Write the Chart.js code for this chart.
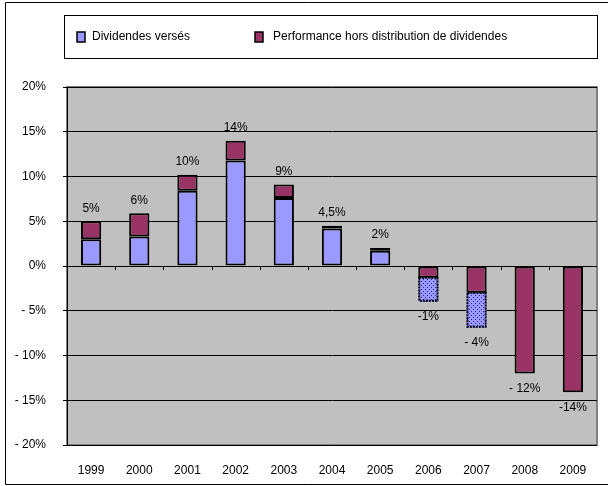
<!DOCTYPE html>
<html>
<head>
<meta charset="utf-8">
<script src="https://cdn.jsdelivr.net/npm/chart.js@4"></script>
<style>
  html, body { margin: 0; padding: 0; background: #fff; }
  #wrap { width: 608px; height: 486px; }
</style>
</head>
<body>
<div id="wrap"><canvas id="myChart" width="608" height="486"></canvas></div>
<script>
// données du graphique
const years = ['1999', '2000', '2001', '2002', '2003', '2004', '2005', '2006', '2007', '2008', '2009'];
const dividendes = [3.0, 3.3, 8.4, 11.8, 7.6, 4.2, 1.7, null, null, null, null];
const performance = [2.0, 2.6, 1.8, 2.2, 1.5, 0.3, 0.3, -1.3, -3.0, -12.0, -14.1];
const dividendesNeg = [null, null, null, null, null, null, null, -2.7, -3.9, null, null];
const totalLabels = ['5%', '6%', '10%', '14%', '9%', '4,5%', '2%', '-1%', '- 4%', '- 12%', '-14%'];
const yTicks = [20, 15, 10, 5, 0, -5, -10, -15, -20];

const BLUE = '#9999FF';
const RED = '#993366';
const FONT = '"Liberation Sans", Arial, sans-serif';

// motif pointillé pour les dividendes en négatif
const pat = document.createElement('canvas');
pat.width = 4; pat.height = 4;
const pctx = pat.getContext('2d');
pctx.fillStyle = BLUE;
pctx.fillRect(0, 0, 4, 4);
pctx.fillStyle = '#2a2a8a';
pctx.fillRect(1, 1, 1, 1);
pctx.fillRect(3, 3, 1, 1);

const ctx = document.getElementById('myChart').getContext('2d');
const dottedPattern = ctx.createPattern(pat, 'repeat');

const decor = {
  id: 'decor',
  beforeDraw(chart) {
    const c = chart.ctx, a = chart.chartArea;
    c.save();
    c.fillStyle = '#fff';
    c.fillRect(0, 0, chart.width, chart.height);
    // cadre extérieur
    c.strokeStyle = '#000';
    c.lineWidth = 1;
    c.beginPath();
    c.moveTo(chart.width + 2, 2.5);
    c.lineTo(5.5, 2.5);
    c.lineTo(5.5, 484.5);
    c.lineTo(chart.width + 2, 484.5);
    c.stroke();
    // fond de la zone de tracé
    c.fillStyle = '#C0C0C0';
    c.fillRect(a.left, a.top, a.right - a.left, a.bottom - a.top);
    c.strokeStyle = '#808080';
    c.lineWidth = 2;
    c.strokeRect(a.left, a.top, a.right - a.left, a.bottom - a.top);
    // légende
    c.lineWidth = 1;
    c.strokeStyle = '#000';
    c.strokeRect(64.5, 15.5, 533, 43);
    const items = [[chart.data.datasets[0], 77, 92], [chart.data.datasets[1], 255, 273]];
    c.font = '12px ' + FONT;
    c.textBaseline = 'middle';
    c.textAlign = 'left';
    items.forEach(([ds, bx, tx]) => {
      c.fillStyle = ds.backgroundColor;
      c.fillRect(bx, 32, 8, 10);
      c.lineWidth = 1.5;
      c.strokeStyle = '#000';
      c.strokeRect(bx, 32, 8, 10);
      c.fillStyle = '#000';
      c.fillText(ds.label, tx, 37);
    });
    c.restore();
  },
  afterDatasetsDraw(chart) {
    const c = chart.ctx;
    const x = chart.scales.x, y = chart.scales.y;
    c.save();
    // petites graduations sur la ligne du zéro
    const y0 = y.getPixelForValue(0);
    const step = (x.right - x.left) / years.length;
    c.strokeStyle = '#000';
    c.lineWidth = 1;
    c.beginPath();
    for (let k = 1; k < years.length; k++) {
      const px = Math.round(x.left + step * k) + 0.5;
      c.moveTo(px, y0);
      c.lineTo(px, y0 + 4);
    }
    c.moveTo(x.left - 4, y0 + 0.5);
    c.lineTo(x.right, y0 + 0.5);
    c.stroke();
    // contour pointillé
    const meta2 = chart.getDatasetMeta(2);
    c.setLineDash([2, 1]);
    c.lineWidth = 2;
    meta2.data.forEach((bar, i) => {
      if (dividendesNeg[i] == null) return;
      const w = bar.width;
      c.strokeRect(bar.x - w / 2 + 1, Math.min(bar.y, bar.base), w - 2, Math.abs(bar.base - bar.y) - 1);
    });
    c.setLineDash([]);
    // étiquettes des totaux
    c.font = '12px ' + FONT;
    c.fillStyle = '#000';
    c.textAlign = 'center';
    c.textBaseline = 'middle';
    years.forEach((yr, i) => {
      let top = Infinity, bottom = -Infinity, cx = 0;
      chart.data.datasets.forEach((ds, d) => {
        const v = ds.data[i];
        if (v == null) return;
        const bar = chart.getDatasetMeta(d).data[i];
        cx = bar.x;
        top = Math.min(top, bar.y, bar.base);
        bottom = Math.max(bottom, bar.y, bar.base);
      });
      const neg = totalLabels[i].startsWith('-');
      c.fillText(totalLabels[i], cx, neg ? bottom + 15 : top - 13);
    });
    c.restore();
  }
};

new Chart(ctx, {
  type: 'bar',
  data: {
    labels: years,
    datasets: [
      { label: 'Dividendes versés', data: dividendes, backgroundColor: BLUE, borderColor: '#000', borderWidth: 2, borderSkipped: false },
      { label: 'Performance hors distribution de dividendes', data: performance, backgroundColor: RED, borderColor: '#000', borderWidth: 2, borderSkipped: false },
      { label: 'Dividendes (négatif)', data: dividendesNeg, backgroundColor: dottedPattern, borderWidth: 0 }
    ]
  },
  options: {
    responsive: false,
    animation: false,
    barPercentage: 0.42,
    categoryPercentage: 1,
    layout: { padding: { top: 87, right: 11, left: 0, bottom: 0 } },
    plugins: { legend: { display: false }, tooltip: { enabled: false } },
    scales: {
      x: {
        stacked: true,
        grid: { display: false, drawTicks: false },
        border: { display: false },
        ticks: { padding: 18, color: '#000', font: { family: FONT, size: 12 } },
        afterFit: (s) => { s.height = 41; }
      },
      y: {
        stacked: true,
        min: -20, max: 20,
        afterBuildTicks: (s) => { s.ticks = yTicks.map(v => ({ value: v })); },
        grid: { color: '#000', lineWidth: 1, tickLength: 4 },
        border: { color: '#000', width: 1 },
        ticks: {
          padding: 17,
          color: '#000',
          font: { family: FONT, size: 12 },
          callback: (v) => v < 0 ? '- ' + Math.abs(v) + '%' : v + '%'
        },
        afterFit: (s) => { s.width = 67; }
      }
    }
  },
  plugins: [decor]
});
</script>
</body>
</html>
